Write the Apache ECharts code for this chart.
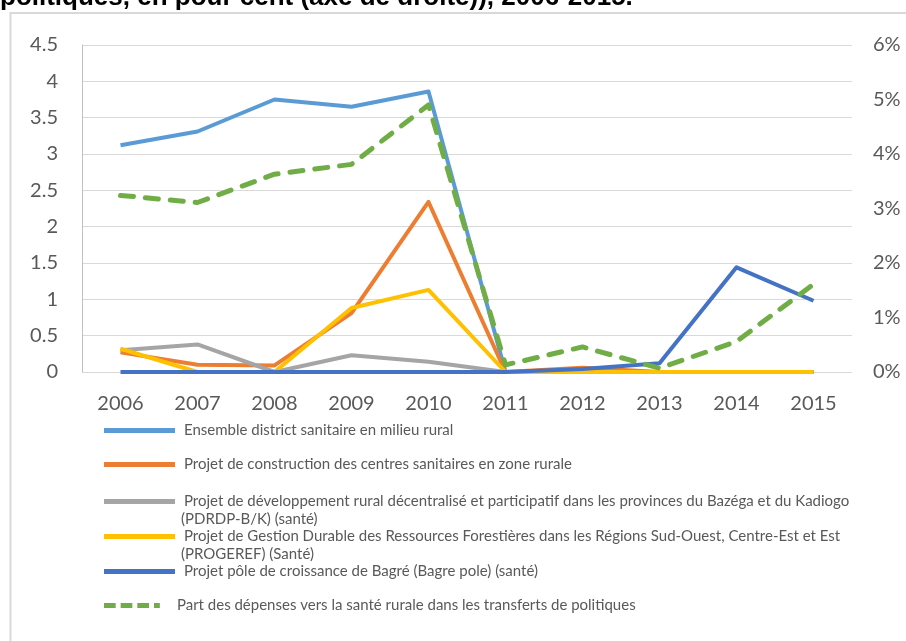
<!DOCTYPE html>
<html>
<head>
<meta charset="utf-8">
<script src="https://cdn.jsdelivr.net/npm/echarts@6/dist/echarts.min.js"></script>
<style>
  html, body { margin: 0; padding: 0; background: #fff; }
  #chart { width: 906px; height: 641px; }
</style>
</head>
<body>
<div id="chart"></div>
<script>
// années
const years = ['2006', '2007', '2008', '2009', '2010', '2011', '2012', '2013', '2014', '2015']

// dépenses (axe de gauche)
const ensembleDistrict = [3.12, 3.31, 3.75, 3.65, 3.86, 0, 0, 0, 0, 0]
const constructionCentres = [0.27, 0.1, 0.09, 0.81, 2.34, 0, 0.06, 0, 0, 0]
const pdrdp = [0.3, 0.38, 0, 0.23, 0.14, 0, 0, 0, 0, 0]
const progeref = [0.32, 0, 0, 0.88, 1.13, 0, 0, 0, 0, 0]
const bagrePole = [0, 0, 0, 0, 0, 0, 0.04, 0.12, 1.44, 0.98]

// part en pour cent (axe de droite)
const partSante = [3.24, 3.11, 3.63, 3.81, 4.9, 0.13, 0.46, 0.07, 0.56, 1.61]

const names = [
  'Ensemble district sanitaire en milieu rural',
  'Projet de construction des centres sanitaires en zone rurale',
  'Projet de développement rural décentralisé et participatif dans les provinces du Bazéga et du Kadiogo',
  'Projet de Gestion Durable des Ressources Forestières dans les Régions Sud-Ouest, Centre-Est et Est',
  'Projet pôle de croissance de Bagré (Bagre pole) (santé)',
  'Part des dépenses vers la santé rurale dans les transferts de politiques'
]
const secondLines = ['', '', '(PDRDP-B/K) (santé)', '(PROGEREF) (Santé)', '', '']
const colors = ['#5B9BD5', '#ED7D31', '#A5A5A5', '#FFC000', '#4472C4', '#70AD47']
const legendTops = [432, 466, 503, 538, 573, 607]

const axisFont = { fontFamily: 'Lato', fontSize: 20, color: '#595959' }
const legendFont = { fontFamily: 'Lato', fontSize: 15, color: '#595959' }

// motif en tirets pour la légende de la série en pointillés
const dashIcon = 'path://M0,0h14v6h-14z M20,0h14v6h-14z M40,0h14v6h-14z M60,0h7v6h-7z'

const chart = echarts.init(document.getElementById('chart'), null, { renderer: 'canvas' })

const dataSets = [ensembleDistrict, constructionCentres, pdrdp, progeref, bagrePole, partSante]

const series = dataSets.map((d, i) => {
  const dashed = i === 5
  return {
    name: names[i],
    type: 'line',
    data: d,
    yAxisIndex: dashed ? 1 : 0,
    symbol: 'none',
    animation: false,
    lineStyle: {
      color: colors[i],
      width: dashed ? 5 : 4,
      type: dashed ? [13, 12] : 'solid',
      cap: dashed ? 'round' : 'butt',
      join: 'round'
    },
    itemStyle: { color: colors[i] }
  }
})

const legends = names.map((n, i) => ({
  data: [{ name: n, icon: i === 5 ? dashIcon : 'rect' }],
  left: 104,
  top: legendTops[i] - 9,
  orient: 'vertical',
  itemWidth: i === 5 ? 72 : 71,
  itemHeight: 5,
  selectedMode: false,
  padding: 0,
  textStyle: Object.assign({ padding: [0, 0, 0, 4] }, legendFont)
}))

const secondLineTexts = secondLines
  .map((t, i) => ({ t, i }))
  .filter((o) => o.t)
  .map((o) => ({
    type: 'text',
    left: 181,
    top: legendTops[o.i] + 9,
    style: { text: o.t, fill: legendFont.color, font: legendFont.fontSize + 'px Lato' }
  }))

chart.setOption({
  backgroundColor: '#fff',
  animation: false,
  grid: { left: 82, right: 54, top: 45, bottom: 269 },
  legend: legends,
  xAxis: {
    type: 'category',
    data: years,
    boundaryGap: true,
    axisLine: { show: false },
    axisTick: { show: false },
    axisLabel: Object.assign({ margin: 22 }, axisFont)
  },
  yAxis: [
    {
      type: 'value',
      min: 0,
      max: 4.5,
      interval: 0.5,
      axisLine: { show: true, lineStyle: { color: '#bfbfbf', width: 1 } },
      axisTick: { show: false },
      splitLine: { lineStyle: { color: '#d9d9d9', width: 1 } },
      axisLabel: Object.assign({ margin: 24 }, axisFont)
    },
    {
      type: 'value',
      min: 0,
      max: 6,
      interval: 1,
      position: 'right',
      axisLine: { show: false },
      axisTick: { show: false },
      splitLine: { show: false },
      axisLabel: Object.assign({ margin: 21, formatter: '{value}%' }, axisFont)
    }
  ],
  graphic: [
    {
      type: 'rect',
      shape: { x: 10.5, y: 13, width: 920, height: 660 },
      style: { fill: 'none', stroke: '#d9d9d9', lineWidth: 2 },
      silent: true
    },
    {
      type: 'text',
      left: 0,
      top: -15,
      style: {
        text: 'politiques, en pour cent (axe de droite)), 2006-2015.',
        fill: '#000',
        font: 'bold 26px "Liberation Sans"'
      }
    }
  ].concat(secondLineTexts),
  series: series
})
</script>
</body>
</html>
